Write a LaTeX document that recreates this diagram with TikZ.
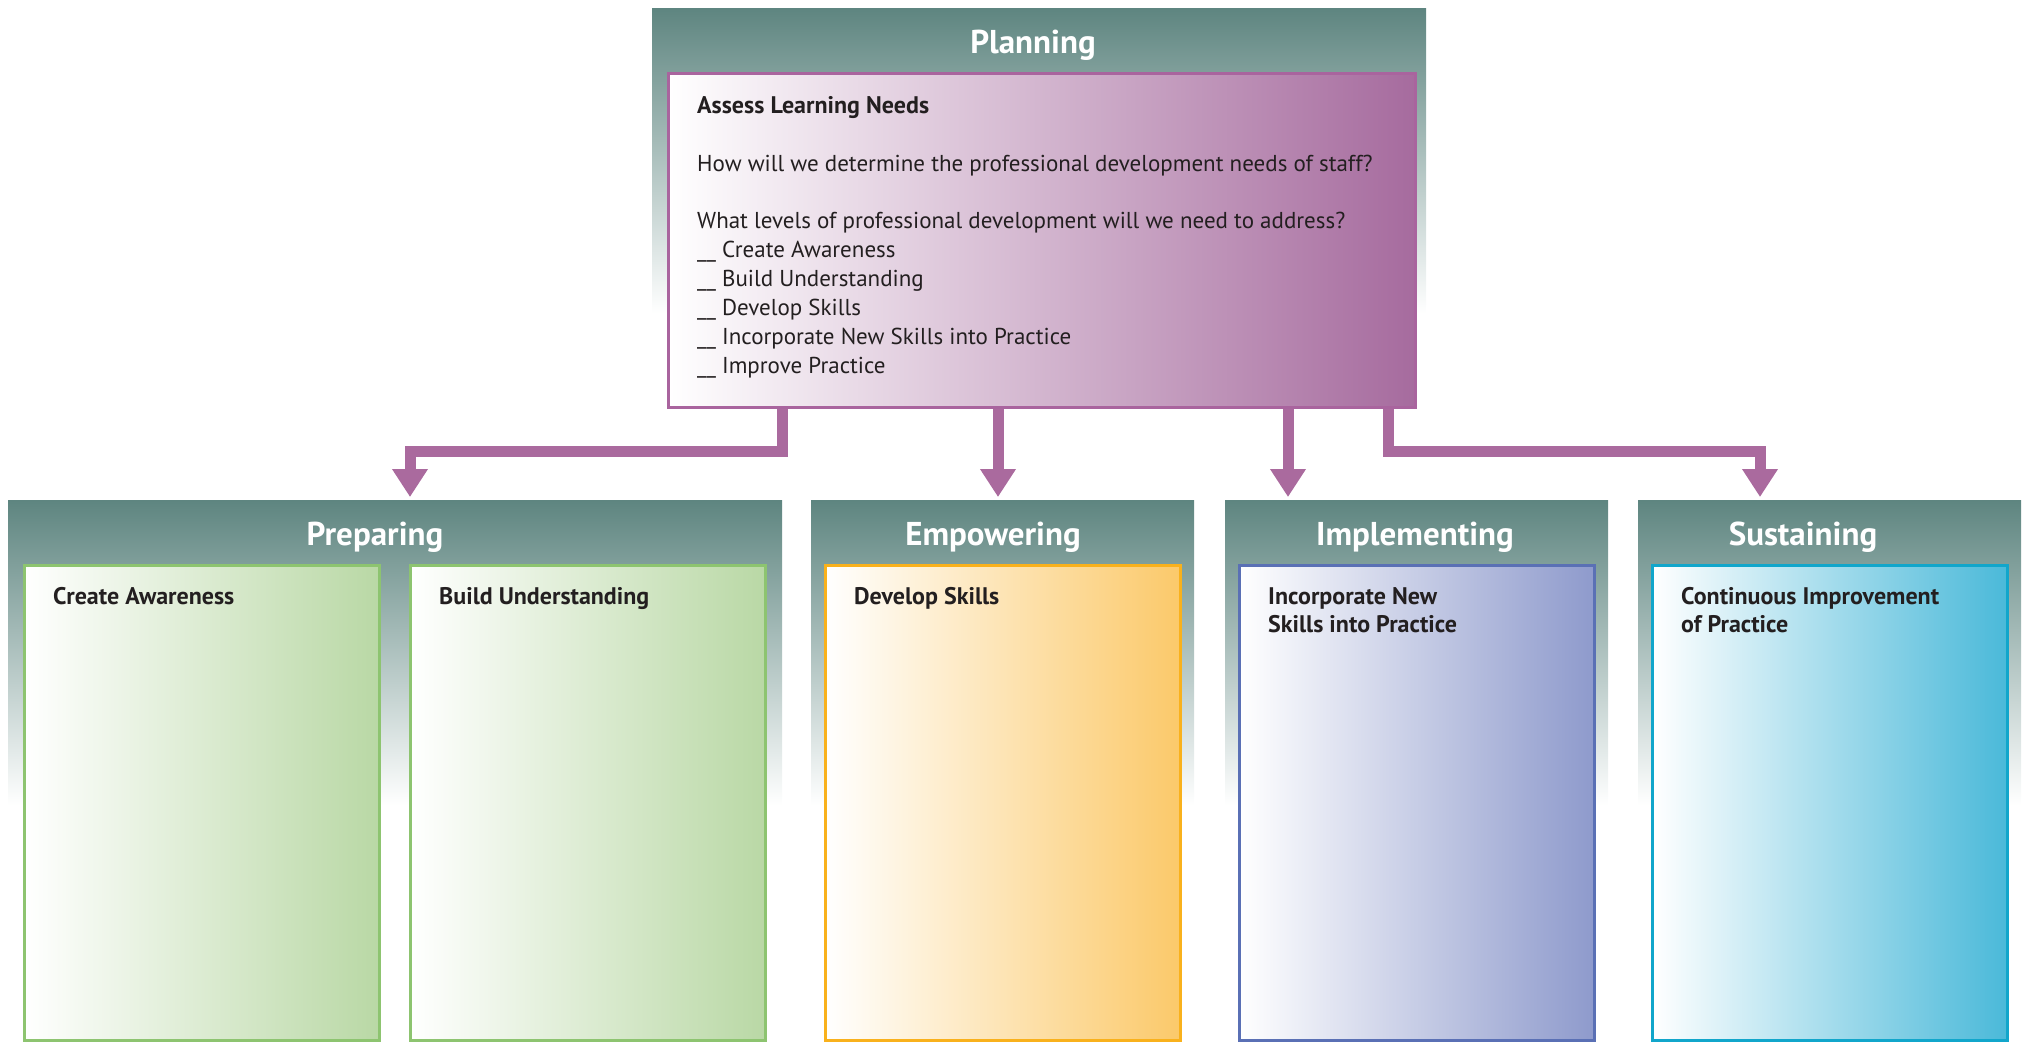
\documentclass[tikz,border=0pt]{standalone}
\usepackage{fontspec}
\setmainfont{PT Sans}
\usetikzlibrary{arrows.meta,positioning}

\definecolor{panelteal}{RGB}{94,133,128}
\definecolor{linkpurple}{RGB}{170,106,158}
\definecolor{planfill}{RGB}{166,107,158}
\definecolor{planline}{RGB}{169,100,158}
\definecolor{prepfill}{RGB}{185,216,165}
\definecolor{prepline}{RGB}{141,196,112}
\definecolor{empfill}{RGB}{251,201,106}
\definecolor{empline}{RGB}{249,177,28}
\definecolor{implfill}{RGB}{142,154,204}
\definecolor{implline}{RGB}{90,112,181}
\definecolor{sustfill}{RGB}{74,185,217}
\definecolor{sustline}{RGB}{17,166,203}
\definecolor{inkdark}{RGB}{35,31,32}

\tikzset{
  panel/.style={shade, top color=panelteal, bottom color=white,
    anchor=north west, inner sep=0pt, minimum height=305pt},
  phase/.style={text=white, font=\fontsize{33}{40}\selectfont\bfseries},
  stagebox/.style={draw=#1line, line width=3pt, left color=white, right color=#1fill,
    anchor=north west, inner sep=0pt, minimum width=355pt, minimum height=475pt},
  boxlabel/.style={text=inkdark, align=left, inner sep=0pt, anchor=north west,
    font=\fontsize{24}{28.5}\selectfont\bfseries},
  link/.style={draw=linkpurple, line width=11pt,
    -{Triangle[width=34pt,length=28pt]}}
}

\begin{document}
\begin{tikzpicture}[x=1pt, y=-1pt]
\useasboundingbox (0,0) rectangle (2024,1042);
% Planning
\node[panel, minimum width=774pt] (planpanel) at (652,8) {};
\node[phase] (plantitle) at (1033,45) {Planning};
\node[stagebox=plan, minimum width=747pt, minimum height=334pt] (plan) at (667,72) {};
\node[boxlabel, font=\fontsize{23}{28.9}\selectfont, below right=24pt and 30pt of plan.north west] (plantext)
  {{\fontsize{24}{28.9}\selectfont\bfseries Assess Learning Needs}\\[28.9pt]
   How will we determine the professional development needs of staff?\\[28.9pt]
   What levels of professional development will we need to address?\\
   \_\_ Create Awareness\\
   \_\_ Build Understanding\\
   \_\_ Develop Skills\\
   \_\_ Incorporate New Skills into Practice\\
   \_\_ Improve Practice};
% phases
\node[panel, minimum width=774pt] (prep) at (8,500) {};
\node[panel, minimum width=383pt] (emp) at (811,500) {};
\node[panel, minimum width=383pt] (impl) at (1225,500) {};
\node[panel, minimum width=383pt] (sust) at (1638,500) {};
\node[phase] (preptitle) at (375,537) {Preparing};
\node[phase] (emptitle) at (993,537) {Empowering};
\node[phase] (impltitle) at (1415,537) {Implementing};
\node[phase] (susttitle) at (1803,537) {Sustaining};
% boxes
\node[stagebox=prep] (aware) at (23,564) {};
\node[stagebox=prep] (underst) at (409,564) {};
\node[stagebox=emp] (skills) at (824,564) {};
\node[stagebox=impl] (incorp) at (1238,564) {};
\node[stagebox=sust] (improve) at (1651,564) {};
\node[boxlabel, below right=23pt and 30pt of aware.north west] (awaretext) {Create Awareness};
\node[boxlabel, below right=23pt and 30pt of underst.north west] (underst text) {Build Understanding};
\node[boxlabel, below right=23pt and 30pt of skills.north west] (skillstext) {Develop Skills};
\node[boxlabel, below right=23pt and 30pt of incorp.north west] (incorptext) {Incorporate New\\Skills into Practice};
\node[boxlabel, below right=23pt and 30pt of improve.north west] (improvetext) {Continuous Improvement\\of Practice};
% connectors
\coordinate (out1) at ([xshift=115pt]plan.south west);
\coordinate (out2) at ([xshift=331pt]plan.south west);
\coordinate (out3) at ([xshift=621pt]plan.south west);
\coordinate (out4) at ([xshift=721pt]plan.south west);
\coordinate (in1) at ([xshift=402pt,yshift=3pt]prep.north west);
\coordinate (in2) at ([xshift=187pt,yshift=3pt]emp.north west);
\coordinate (in3) at ([xshift=63pt,yshift=3pt]impl.north west);
\coordinate (in4) at ([xshift=122pt,yshift=3pt]sust.north west);
\draw[link] (out1) -- ++(0,42) -| (in1);
\draw[link] (out2) -- (in2);
\draw[link] (out3) -- (in3);
\draw[link] (out4) -- ++(0,42) -| (in4);
\end{tikzpicture}
\end{document}
